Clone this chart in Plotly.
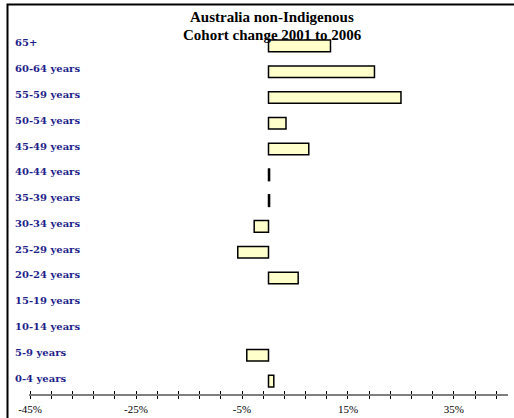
import plotly.graph_objects as go

# Age cohorts, bottom to top
cohorts = ["0-4 years", "5-9 years", "10-14 years", "15-19 years", "20-24 years",
           "25-29 years", "30-34 years", "35-39 years", "40-44 years", "45-49 years",
           "50-54 years", "55-59 years", "60-64 years", "65+"]
# Percentage change in each cohort, 2001 to 2006 (None = no bar)
change_pct = [1.0, -4.1, None, None, 5.6, -5.8, -2.7, 0.2, 0.2, 7.6, 3.3, 25.0, 20.0, 11.7]

tick_vals = [-45, -25, -5, 15, 35]
tick_text = ["-45%", "-25%", "-5%", "15%", "35%"]
minor_vals = list(range(-45, 47, 4))

W, H = 514, 418
ML, MR, MT, MB = 29, 6, 33, 24
pw, ph = W - ML - MR, H - MT - MB

fig = go.Figure()
fig.add_trace(go.Bar(
    x=change_pct, y=cohorts, orientation="h", width=0.45,
    marker=dict(color="#FFFFCC", line=dict(color="black", width=1.5)),
    hoverinfo="x+y", showlegend=False,
))
# invisible helper trace so the overlay axis carries inward ticks
fig.add_trace(go.Scatter(x=[None], y=[None], xaxis="x2", yaxis="y",
                         showlegend=False, hoverinfo="skip"))

axis_font = dict(family="Liberation Serif", size=11, color="black")
fig.update_layout(
    width=W, height=H,
    margin=dict(l=ML, r=MR, t=MT, b=MB),
    paper_bgcolor="white", plot_bgcolor="white",
    bargap=0.5,
    xaxis=dict(
        range=[-45.2, 45.2], showgrid=False, zeroline=False,
        showline=True, linecolor="#7f7f7f", linewidth=2,
        tickvals=tick_vals, ticktext=tick_text, ticks="outside", ticklen=3,
        tickcolor="black", tickwidth=1, tickfont=axis_font,
        ticklabelstandoff=1, automargin=False,
        minor=dict(tickvals=minor_vals, ticks="outside", ticklen=3,
                   tickcolor="black", tickwidth=1),
    ),
    xaxis2=dict(
        overlaying="x", matches="x", side="bottom", showgrid=False,
        zeroline=False, showticklabels=False,
        tickvals=tick_vals, ticks="inside", ticklen=3, tickcolor="black",
        minor=dict(tickvals=minor_vals, ticks="inside", ticklen=3,
                   tickcolor="black", tickwidth=1),
    ),
    yaxis=dict(
        type="category", categoryorder="array", categoryarray=cohorts,
        range=[-0.5, len(cohorts) - 0.5], showticklabels=False,
        showgrid=False, zeroline=False, showline=False, ticks="",
    ),
)

# cohort labels, left aligned near the frame
for c in cohorts:
    fig.add_annotation(
        x=(15 - ML) / pw, xref="paper", xanchor="left", xshift=-2,
        y=c, yref="y", yshift=3, showarrow=False,
        text="<b>%s</b>" % c,
        font=dict(family="DejaVu Serif", size=10, color="#1f1f8a"),
    )

# two-line title
title_lines = ["Australia non-Indigenous", "Cohort change 2001 to 2006"]
for i, line in enumerate(title_lines):
    fig.add_annotation(
        x=(272 - ML) / pw, xref="paper", xanchor="center",
        y=1 + (MT - (17 + 18 * i)) / ph, yref="paper", yanchor="middle",
        showarrow=False, text="<b>%s</b>" % line,
        font=dict(family="Liberation Serif", size=15, color="black"),
    )

# outer frame running off the right and bottom edges
fig.add_shape(
    type="rect", xref="paper", yref="paper", layer="above",
    x0=(7.5 - ML) / pw, x1=(W + 20 - ML) / pw,
    y0=-(MB + 20) / ph, y1=1 + (MT - 4.5) / ph,
    line=dict(color="black", width=2), fillcolor="rgba(0,0,0,0)",
)

fig.write_html("out.html")
